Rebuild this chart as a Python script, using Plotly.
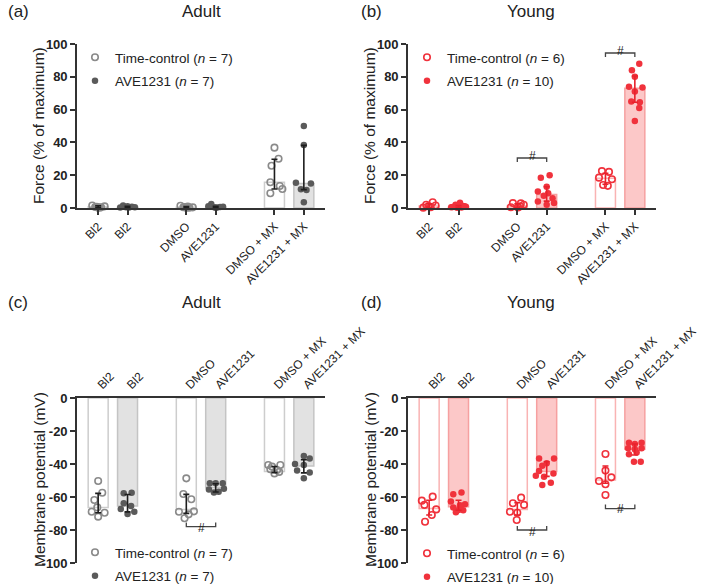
import plotly.graph_objects as go

# ---------------- data ----------------
tick_pos = [0, 1, 3, 4, 6, 7]
tick_text = ["Bl2", "Bl2", "DMSO", "AVE1231", "DMSO + MX", "AVE1231 + MX"]
tc_pos = [0, 3, 6]
ave_pos = [1, 4, 7]
y_force_ticks = [0, 20, 40, 60, 80, 100]
y_force_text = ["0", "20", "40", "60", "80", "100"]
y_mem_ticks = [0, -20, -40, -60, -80, -100]
y_mem_text = ["0", "-20", "-40", "-60", "-80", "-100"]

# Panel (a) Adult force
a_tc_vals = [[1.5, 0.6, 0.2, 0.4, 1.0, 0.8, 0.3],
             [1.4, 0.5, 0.2, 0.2, 0.4, 0.6, 0.9],
             [36.8, 30.0, 25.8, 15.7, 13.4, 11.6, 9.0]]
a_tc_jit = [[-0.2, -0.1, 0.0, 0.1, 0.22, -0.05, 0.05],
            [-0.2, -0.1, 0.0, 0.1, 0.22, -0.05, 0.05],
            [0.0, 0.14, -0.1, -0.14, 0.18, 0.27, -0.14]]
a_ave_vals = [[1.6, 0.5, 0.3, 0.8, 0.5, 0.3, 1.0],
              [2.4, 0.5, 0.3, 0.6, 0.8, 1.0, 0.2],
              [50.0, 38.4, 15.4, 15.0, 11.4, 11.0, 3.5]]
a_ave_jit = [[-0.15, -0.05, 0.05, 0.15, 0.25, -0.25, 0.0],
             [-0.15, -0.05, 0.05, 0.15, 0.25, -0.25, 0.0],
             [0.0, 0.0, -0.27, 0.24, -0.1, 0.09, 0.0]]
a_tc_bar = [0.8, 0.5, 15.7]
a_tc_lo = [0.3, 0.2, 11.6]
a_tc_hi = [1.4, 0.9, 29.7]
a_ave_bar = [0.6, 0.5, 15.0]
a_ave_lo = [0.3, 0.3, 11.2]
a_ave_hi = [1.0, 1.0, 38.2]

# Panel (b) Young force
b_tc_vals = [[2.0, 3.5, 0.2, 0.5, 1.5, 1.2],
             [3.0, 2.8, 2.0, 0.5, 0.3, 1.0],
             [22.5, 22.0, 18.5, 17.5, 14.0, 13.5]]
b_tc_jit = [[-0.1, 0.12, -0.2, 0.05, 0.22, -0.02],
            [-0.15, 0.12, 0.22, -0.22, 0.02, 0.1],
            [-0.12, 0.12, -0.22, 0.22, -0.08, 0.08]]
b_ave_vals = [[3.2, 2.0, 1.0, 0.5, 0.3, 0.2, 0.8, 0.6, 0.4, 1.2],
              [20.0, 18.5, 13.0, 10.0, 9.0, 7.5, 6.0, 4.0, 3.0, 2.0],
              [88.0, 84.0, 80.0, 74.0, 73.5, 71.0, 65.0, 64.5, 61.0, 53.0]]
b_ave_jit = [[0.05, -0.1, 0.2, -0.25, 0.1, -0.05, 0.25, -0.2, 0.0, 0.15],
             [0.1, -0.2, 0.0, -0.3, 0.05, -0.1, 0.2, -0.3, 0.25, 0.0],
             [0.15, -0.1, 0.0, -0.2, 0.26, 0.0, -0.12, 0.17, 0.15, 0.0]]
b_tc_bar = [1.2, 1.2, 18.2]
b_tc_lo = [0.5, 0.5, 14.5]
b_tc_hi = [2.5, 2.6, 21.2]
b_ave_bar = [0.7, 8.3, 73.0]
b_ave_lo = [0.3, 4.2, 64.5]
b_ave_hi = [1.5, 13.0, 80.5]

# Panel (c) Adult membrane potential
c_tc_vals = [[-50.3, -57.4, -61.8, -66.3, -68.9, -69.5, -71.9],
             [-48.7, -58.2, -61.4, -68.9, -68.7, -70.5, -72.9],
             [-40.6, -40.6, -41.6, -43.2, -43.6, -45.7, -44.8]]
c_tc_jit = [[0.0, 0.14, -0.13, -0.03, -0.22, 0.22, 0.0],
            [0.0, -0.1, 0.17, -0.25, 0.26, 0.08, -0.06],
            [-0.21, 0.2, -0.08, -0.14, 0.09, 0.0, 0.16]]
c_ave_vals = [[-57.8, -57.4, -63.8, -65.5, -67.3, -68.9, -70.3],
              [-51.7, -51.7, -51.7, -55.4, -55.0, -57.2, -56.8],
              [-35.2, -36.6, -40.0, -40.6, -44.0, -45.2, -48.7]]
c_ave_jit = [[-0.13, 0.14, -0.13, 0.12, -0.23, 0.23, 0.0],
             [-0.2, 0.0, 0.24, -0.23, 0.28, -0.06, 0.1],
             [0.0, 0.2, -0.3, 0.0, -0.23, 0.2, 0.0]]
c_tc_bar = [-66.3, -67.5, -44.6]
c_tc_lo = [-69.5, -69.9, -45.2]
c_tc_hi = [-57.8, -58.4, -41.5]
c_ave_bar = [-65.5, -54.4, -41.2]
c_ave_lo = [-69.0, -57.0, -45.4]
c_ave_hi = [-58.5, -52.0, -37.4]

# Panel (d) Young membrane potential
d_tc_vals = [[-59.8, -62.2, -64.8, -67.5, -70.9, -75.0],
             [-60.4, -64.8, -63.8, -69.5, -68.9, -73.9],
             [-33.9, -44.0, -50.3, -48.1, -52.3, -58.8]]
d_tc_jit = [[0.12, -0.25, -0.16, 0.24, 0.09, -0.14],
            [0.13, 0.23, -0.15, 0.0, -0.25, -0.02],
            [0.0, 0.0, -0.22, 0.2, 0.0, 0.0]]
d_ave_vals = [[-57.2, -58.4, -62.8, -64.4, -65.0, -66.3, -67.9, -68.0, -69.3, -66.5],
              [-36.6, -36.6, -39.6, -41.0, -44.2, -45.7, -47.7, -47.1, -51.3, -52.7],
              [-27.1, -27.1, -27.9, -30.5, -31.0, -30.5, -34.1, -33.0, -38.6, -38.6]]
d_ave_jit = [[0.1, -0.18, -0.26, 0.22, 0.05, -0.18, 0.0, 0.16, -0.09, 0.05],
             [-0.26, 0.25, 0.0, -0.15, -0.26, 0.23, -0.09, -0.37, 0.14, -0.15],
             [-0.2, 0.23, 0.0, -0.23, 0.0, 0.23, -0.2, 0.06, -0.03, 0.2]]
d_tc_bar = [-66.9, -67.5, -49.7]
d_tc_lo = [-70.9, -70.9, -51.7]
d_tc_hi = [-62.0, -63.4, -41.2]
d_ave_bar = [-65.9, -44.6, -31.1]
d_ave_lo = [-68.0, -47.5, -34.5]
d_ave_hi = [-62.0, -38.6, -27.9]

# ---------------- styling ----------------
FONT = "Arial, 'Liberation Sans', sans-serif"
W, H = 709, 584
AX = "#333333"

def px(x):
    return x / W

def py(y):
    return 1 - y / H

fig = go.Figure()

panels = [
    dict(ax="", legend="legend", tc=(a_tc_vals, a_tc_jit, a_tc_bar, a_tc_lo, a_tc_hi),
         ave=(a_ave_vals, a_ave_jit, a_ave_bar, a_ave_lo, a_ave_hi), n=(7, 7), young=False),
    dict(ax="2", legend="legend2", tc=(b_tc_vals, b_tc_jit, b_tc_bar, b_tc_lo, b_tc_hi),
         ave=(b_ave_vals, b_ave_jit, b_ave_bar, b_ave_lo, b_ave_hi), n=(6, 10), young=True),
    dict(ax="3", legend="legend3", tc=(c_tc_vals, c_tc_jit, c_tc_bar, c_tc_lo, c_tc_hi),
         ave=(c_ave_vals, c_ave_jit, c_ave_bar, c_ave_lo, c_ave_hi), n=(7, 7), young=False),
    dict(ax="4", legend="legend4", tc=(d_tc_vals, d_tc_jit, d_tc_bar, d_tc_lo, d_tc_hi),
         ave=(d_ave_vals, d_ave_jit, d_ave_bar, d_ave_lo, d_ave_hi), n=(6, 10), young=True),
]

for p in panels:
    xa, ya = "x" + p["ax"], "y" + p["ax"]
    if p["young"]:
        tc_line, ave_fill, ave_line = "#f9b3b3", "#fcc8c8", "#f6a0a0"
        pt_col_tc, pt_col_ave, err_col = "#f0323c", "#f0323c", "#e8222c"
    else:
        tc_line, ave_fill, ave_line = "#cdcdcd", "#e2e2e2", "#c4c4c4"
        pt_col_tc, pt_col_ave, err_col = "#8a8a8a", "#5a5a5a", "#1e1e1e"
    tv, tj, tb, tlo, thi = p["tc"]
    av, aj, ab, alo, ahi = p["ave"]
    fig.add_trace(go.Bar(x=tc_pos, y=tb, width=0.68, xaxis=xa, yaxis=ya,
                         marker=dict(color="white", line=dict(color=tc_line, width=1.5)),
                         showlegend=False, hoverinfo="skip"))
    fig.add_trace(go.Bar(x=ave_pos, y=ab, width=0.68, xaxis=xa, yaxis=ya,
                         marker=dict(color=ave_fill, line=dict(color=ave_line, width=1.5)),
                         showlegend=False, hoverinfo="skip"))
    xs_t, ys_t, xs_a, ys_a = [], [], [], []
    for c, vals, jits in zip(tc_pos, tv, tj):
        xs_t += [c + j for j in jits]
        ys_t += vals
    for c, vals, jits in zip(ave_pos, av, aj):
        xs_a += [c + j for j in jits]
        ys_a += vals
    fig.add_trace(go.Scatter(x=xs_t, y=ys_t, mode="markers", xaxis=xa, yaxis=ya, cliponaxis=False,
                             marker=dict(symbol="circle-open", size=6.5, color=pt_col_tc,
                                         line=dict(width=1.6, color=pt_col_tc)),
                             name="Time-control (<i>n</i> = %d)" % p["n"][0],
                             legend=p["legend"], legendgroup="t" + p["ax"]))
    fig.add_trace(go.Scatter(x=xs_a, y=ys_a, mode="markers", xaxis=xa, yaxis=ya, cliponaxis=False,
                             marker=dict(symbol="circle", size=6.5, color=pt_col_ave),
                             name="AVE1231 (<i>n</i> = %d)" % p["n"][1],
                             legend=p["legend"], legendgroup="a" + p["ax"]))
    for pos, mid, lo, hi in ((tc_pos, tb, tlo, thi), (ave_pos, ab, alo, ahi)):
        fig.add_trace(go.Scatter(
            x=pos, y=mid, mode="markers", xaxis=xa, yaxis=ya, cliponaxis=False,
            marker=dict(size=1, color="rgba(0,0,0,0)"), showlegend=False, hoverinfo="skip",
            error_y=dict(type="data", symmetric=False,
                         array=[h - m for h, m in zip(hi, mid)],
                         arrayminus=[m - l for m, l in zip(mid, lo)],
                         color=err_col, thickness=1.6, width=3)))

# ---------------- axes ----------------
xdom_l = [px(77), px(325)]
xdom_r = [px(408), px(656)]
ydom_t = [py(208), py(44)]
ydom_b = [py(563), py(398)]
xrange = [-0.72, 7.72]

tickfont_y = dict(family=FONT, size=13, color="#222", weight="bold")
tickfont_x = dict(family=FONT, size=12, color="#222")

def xaxis(dom, anchor, top):
    d = dict(domain=dom, anchor=anchor, range=xrange, showgrid=False, zeroline=False,
             showline=True, linecolor=AX, linewidth=1.6, tickmode="array", automargin=False,
             tickvals=tick_pos, ticktext=tick_text, tickangle=-45, tickfont=tickfont_x,
             fixedrange=True)
    if top:
        d.update(side="top", ticks="", ticklen=0)
    else:
        d.update(side="bottom", ticks="outside", ticklen=5, tickwidth=1.6, tickcolor=AX)
    return d

def yaxis(dom, anchor, rng, tv, tt):
    return dict(domain=dom, anchor=anchor, range=rng, showgrid=False, zeroline=False,
                showline=True, linecolor=AX, linewidth=1.6, ticks="outside", ticklen=5,
                tickwidth=1.6, tickcolor=AX, tickmode="array", tickvals=tv, ticktext=tt,
                tickfont=tickfont_y, fixedrange=True, automargin=False)

layout = dict(
    width=W, height=H, autosize=False, margin=dict(l=0, r=0, t=0, b=0, pad=0, autoexpand=False),
    paper_bgcolor="white", plot_bgcolor="white", barmode="overlay",
    font=dict(family=FONT, color="#222"),
    xaxis=xaxis(xdom_l, "y", False), yaxis=yaxis(ydom_t, "x", [0, 100], y_force_ticks, y_force_text),
    xaxis2=xaxis(xdom_r, "y2", False), yaxis2=yaxis(ydom_t, "x2", [0, 100], y_force_ticks, y_force_text),
    xaxis3=xaxis(xdom_l, "y3", True), yaxis3=yaxis(ydom_b, "x3", [-100, 0], y_mem_ticks, y_mem_text),
    xaxis4=xaxis(xdom_r, "y4", True), yaxis4=yaxis(ydom_b, "x4", [-100, 0], y_mem_ticks, y_mem_text),
)

def legend(x, y):
    return dict(x=px(x), y=py(y), xanchor="left", yanchor="top", bgcolor="rgba(0,0,0,0)",
                font=dict(family=FONT, size=13.5, color="#222"), traceorder="grouped",
                tracegroupgap=3, itemclick=False, itemdoubleclick=False)

layout["legend"] = legend(75, 42)
layout["legend2"] = legend(407, 42)
layout["legend3"] = legend(75, 537)
layout["legend4"] = legend(407, 538)
fig.update_layout(**layout)

# ---------------- annotations ----------------
ann = []
def text(x, y, s, size, **kw):
    d = dict(x=px(x), y=py(y), xref="paper", yref="paper", text=s, showarrow=False,
             font=dict(family=FONT, size=size, color="#222"), xanchor="center", yanchor="middle")
    d.update(kw)
    ann.append(d)

text(6, 11, "(a)", 17, xanchor="left")
text(359, 11, "(b)", 17, xanchor="left")
text(6, 302, "(c)", 17, xanchor="left")
text(359, 302, "(d)", 17, xanchor="left")
text(201, 11, "Adult", 17)
text(531, 11, "Young", 17)
text(201, 302, "Adult", 17)
text(531, 302, "Young", 17)
text(39, 126, "Force (% of maximum)", 15.5, textangle=-90)
text(370, 126, "Force (% of maximum)", 15.5, textangle=-90)
text(39, 480, "Membrane potential (mV)", 15.5, textangle=-90)
text(370, 480, "Membrane potential (mV)", 15.5, textangle=-90)

# significance brackets: (axis suffix, x0, x1, y level, tick direction, label y, y range, y domain)
brackets = [("2", 3, 4, 30.5, -2.5, 37.5, (0, 100), ydom_t),
            ("2", 6, 7, 94.5, -2.5, 101.5, (0, 100), ydom_t),
            ("3", 3, 4, -78.0, 2.5, -84.5, (-100, 0), ydom_b),
            ("4", 3, 4, -80.0, 2.5, -86.5, (-100, 0), ydom_b),
            ("4", 6, 7, -67.0, 2.5, -73.0, (-100, 0), ydom_b)]
shapes = []
for axs, x0, x1, yl, dy, ty, (r0, r1), dom in brackets:
    shapes.append(dict(type="path", xref="x" + axs, yref="y" + axs,
                       path="M %s,%s L %s,%s L %s,%s L %s,%s" % (x0, yl + dy, x0, yl, x1, yl, x1, yl + dy),
                       line=dict(color="#444", width=1.3)))
    frac = (ty - r0) / (r1 - r0)
    ann.append(dict(x=(x0 + x1) / 2, y=dom[0] + frac * (dom[1] - dom[0]), xref="x" + axs, yref="paper",
                    text="#", showarrow=False, font=dict(family=FONT, size=12, color="#222")))

fig.update_layout(annotations=ann, shapes=shapes)
fig.write_html(
    "out.html",
    config={"displayModeBar": False, "responsive": False},
    post_script=("var gd=document.getElementById('{plot_id}');"
                 "gd.style.position='absolute';gd.style.left='0px';gd.style.top='0px';"
                 "document.body.style.margin='0';"
                 "document.documentElement.style.overflow='hidden';"
                 "document.body.style.overflow='hidden';"))
